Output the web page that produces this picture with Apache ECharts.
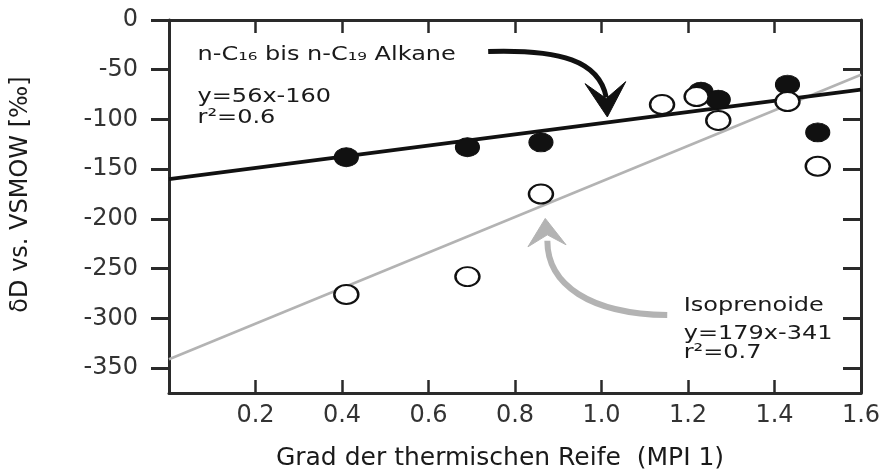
<!DOCTYPE html>
<html>
<head>
<meta charset="utf-8">
<script src="https://cdn.jsdelivr.net/npm/echarts@6/dist/echarts.min.js"></script>
<style>
html,body{margin:0;padding:0;background:#fff;}
#chart{width:885px;height:470px;}
</style>
</head>
<body>
<div id="chart"></div>
<script>
// ---- data ----
const alkaneX = [0.41, 0.69, 0.86, 1.23, 1.27, 1.43, 1.50];
const alkaneY = [-138, -128, -123, -72, -80, -65, -113];
const isoX = [0.41, 0.69, 0.86, 1.14, 1.22, 1.27, 1.43, 1.50];
const isoY = [-276, -258, -175, -85, -77, -101, -82, -147];
const alkaneFitX = [0, 1.6];
const alkaneFitY = [-160, -70];
const isoFitX = [0, 1.6];
const isoFitY = [-341, -55];
const xTicks = [0.2, 0.4, 0.6, 0.8, 1.0, 1.2, 1.4, 1.6];
const yTicks = [0, -50, -100, -150, -200, -250, -300, -350];

const FONT = 'DejaVu Sans';
const INK = '#1a1a1a';
const zip = (xs, ys) => xs.map((x, i) => [x, ys[i]]);

const chart = echarts.init(document.getElementById('chart'), null, {renderer: 'canvas'});

const axisLine = {show: true, onZero: false, lineStyle: {color: '#2a2a2a', width: 3}};
const option = {
  animation: false,
  backgroundColor: '#fff',
  grid: {left: 169, right: 24, top: 20, bottom: 77, containLabel: false, outerBoundsMode: 'none'},
  xAxis: [
    {
      type: 'value', position: 'bottom', min: 0, max: 1.6, interval: 0.2,
      axisLine: axisLine,
      axisTick: {show: true, inside: true, length: 13, customValues: xTicks,
        lineStyle: {color: '#2a2a2a', width: 2.5}},
      axisLabel: {show: true, customValues: xTicks, margin: 11, color: '#333',
        fontFamily: FONT, fontSize: 24, formatter: v => Number(v).toFixed(1)},
      splitLine: {show: false},
      name: 'Grad der thermischen Reife  (MPI 1)',
      nameLocation: 'middle', nameGap: 53,
      nameTextStyle: {fontFamily: FONT, fontSize: 25, color: INK, padding: [0, 30, 0, 0]}
    },
    {
      type: 'value', position: 'top', min: 0, max: 1.6, interval: 0.2,
      axisLine: axisLine,
      axisTick: {show: true, inside: true, length: 13, customValues: xTicks,
        lineStyle: {color: '#2a2a2a', width: 2.5}},
      axisLabel: {show: false}, splitLine: {show: false}
    }
  ],
  yAxis: [
    {
      type: 'value', position: 'left', min: -375, max: 0,
      axisLine: axisLine,
      axisTick: {show: true, inside: false, length: 18, customValues: yTicks,
        lineStyle: {color: '#2a2a2a', width: 3}},
      axisLabel: {show: true, customValues: yTicks, margin: 31, color: '#333',
        fontFamily: FONT, fontSize: 24},
      splitLine: {show: false},
      name: 'δD vs. VSMOW [‰]',
      nameLocation: 'middle', nameGap: 136, nameRotate: 90,
      nameTextStyle: {fontFamily: FONT, fontSize: 24, color: INK, padding: [0, 0, 0, 24]}
    },
    {
      type: 'value', position: 'right', min: -375, max: 0,
      axisLine: axisLine,
      axisTick: {show: true, inside: true, length: 18, customValues: yTicks,
        lineStyle: {color: '#2a2a2a', width: 3}},
      axisLabel: {show: false}, splitLine: {show: false}
    }
  ],
  series: [
    {
      name: 'Isoprenoide fit', type: 'line', data: zip(isoFitX, isoFitY),
      symbol: 'none', lineStyle: {color: '#b3b3b3', width: 2.6}, z: 2, silent: true
    },
    {
      name: 'Alkane fit', type: 'line', data: zip(alkaneFitX, alkaneFitY),
      symbol: 'none', lineStyle: {color: '#111', width: 3.6}, z: 3, silent: true
    },
    {
      name: 'n-Alkane', type: 'scatter', data: zip(alkaneX, alkaneY),
      symbol: 'circle', symbolSize: [24, 19],
      itemStyle: {color: '#111', borderColor: '#111', borderWidth: 1, opacity: 1}, z: 4
    },
    {
      name: 'Isoprenoide', type: 'scatter', data: zip(isoX, isoY),
      symbol: 'circle', symbolSize: [24, 19],
      itemStyle: {color: '#fff', borderColor: '#111', borderWidth: 2.2, opacity: 1}, z: 5
    }
  ]
};
chart.setOption(option);

// ---- annotations anchored in data coordinates ----
const P = (x, y) => chart.convertToPixel({xAxisIndex: 0, yAxisIndex: 0}, [x, y]);
const txt = (x, y, text, size) => {
  const p = P(x, y);
  return {type: 'text', x: p[0], y: p[1], z: 20, scaleX: 1.2, scaleY: 1,
    style: {text: text, fontFamily: FONT, fontSize: size, fill: INK,
      textAlign: 'left', textVerticalAlign: 'middle', verticalAlign: 'middle'}};
};
const curve = (pts, color, width) => {
  const q = pts.map(a => P(a[0], a[1]));
  return {type: 'bezierCurve', z: 15,
    shape: {x1: q[0][0], y1: q[0][1], cpx1: q[1][0], cpy1: q[1][1],
      cpx2: q[2][0], cpy2: q[2][1], x2: q[3][0], y2: q[3][1]},
    style: {stroke: color, lineWidth: width, fill: null}};
};
const head = (pts, color) => ({type: 'polygon', z: 16,
  shape: {points: pts.map(a => P(a[0], a[1]))},
  style: {fill: color, stroke: color, lineWidth: 1}});

chart.setOption({
  graphic: [
    txt(0.066, -35, 'n-C₁₆ bis n-C₁₉ Alkane', 20),
    txt(0.066, -77, 'y=56x-160', 20),
    txt(0.066, -98, 'r²=0.6', 20),
    txt(1.19, -287, 'Isoprenoide', 20),
    txt(1.19, -315, 'y=179x-341', 20),
    txt(1.19, -335, 'r²=0.7', 20),
    curve([[0.738, -31.7], [0.905, -29.5], [0.995, -41], [1.011, -78]], '#111', 5),
    head([[1.0135, -97.5], [0.962, -64], [1.011, -79], [1.056, -62]], '#111'),
    curve([[0.8748, -222], [0.8748, -266.4], [0.974, -295.6], [1.152, -296.6]], '#b3b3b3', 6),
    head([[0.870, -199.5], [0.830, -228], [0.8748, -216], [0.918, -226]], '#b3b3b3')
  ]
});
</script>
</body>
</html>
